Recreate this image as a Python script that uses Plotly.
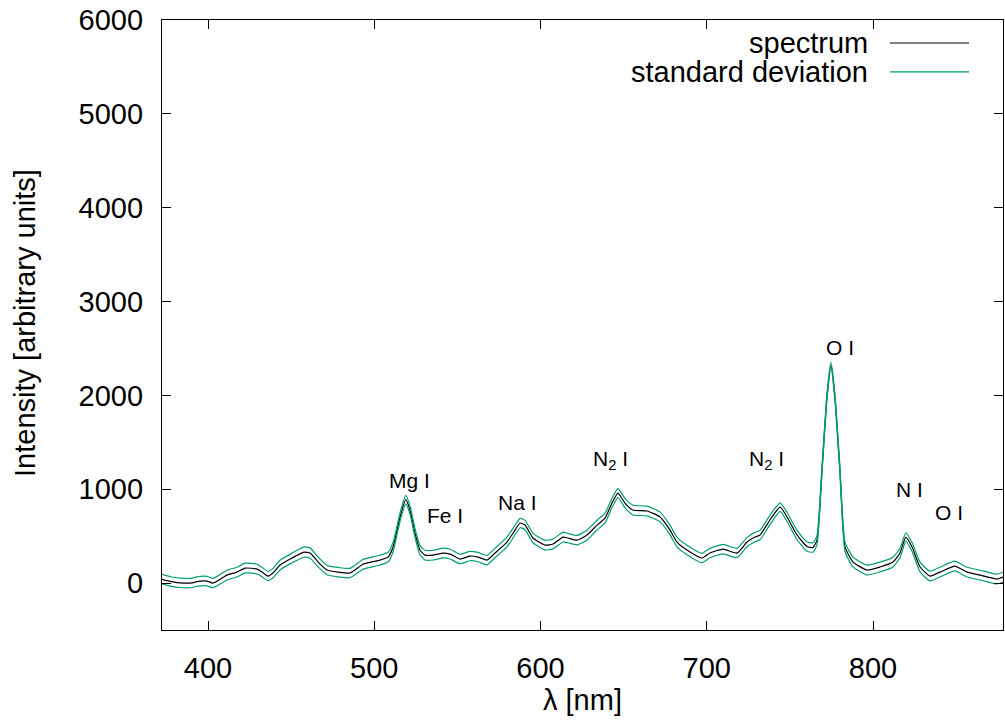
import numpy as np
import plotly.graph_objects as go

# wavelength [nm]
wavelength = [
    372.3, 378.0, 385.0, 389.2, 395.2, 399.4, 403.0, 411.4, 417.4, 422.3,
    429.5, 432.5, 436.1, 439.1, 443.3, 450.5, 457.7, 461.4, 466.2, 471.6,
    478.2, 485.4, 493.2, 497.4, 503.5, 508.3, 511.3, 515.5, 518.9, 521.5,
    524.5, 527.5, 530.5, 535.3, 541.4, 545.6, 551.6, 557.6, 562.4, 567.8,
    572.6, 579.8, 583.5, 587.7, 590.7, 595.5, 602.7, 607.5, 613.5, 616.5,
    622.0, 628.0, 634.0, 638.8, 643.0, 646.6, 650.8, 655.6, 664.1, 671.9,
    677.9, 682.1, 688.1, 697.1, 701.9, 709.8, 718.2, 724.2, 729.0, 732.0,
    738.0, 744.1, 748.3, 754.3, 760.3, 763.9, 766.3, 769.3, 772.3, 774.7,
    777.1, 780.1, 783.2, 788.0, 796.4, 804.2, 812.0, 816.2, 819.8, 823.5,
    828.3, 834.3, 840.3, 849.3, 856.5, 864.4, 869.2, 874.6, 878.2,
]

# mean spectrum intensity [arbitrary units]
spectrum = [
    40, 15, 0, 0, 21, 21, 0, 85, 117, 160,
    149, 117, 75, 107, 192, 267, 330, 320, 224, 139,
    117, 107, 200, 220, 245, 277, 384, 704, 890, 778,
    533, 352, 298, 298, 320, 309, 256, 288, 277, 245,
    320, 437, 533, 640, 618, 480, 405, 416, 490, 480,
    458, 512, 618, 693, 853, 959, 853, 778, 768, 704,
    565, 437, 352, 267, 320, 362, 320, 437, 490, 512,
    672, 810, 704, 512, 390, 380, 458, 1205, 1983, 2324,
    1983, 1205, 384, 224, 139, 171, 224, 320, 490, 384,
    171, 75, 117, 181, 117, 85, 64, 43, 64,
]

# standard deviation of the spectrum
std_dev = [
    52, 50, 50, 50, 50, 50, 50, 52, 52, 52,
    52, 50, 50, 50, 52, 52, 55, 55, 52, 50,
    50, 50, 52, 52, 52, 52, 50, 45, 45, 45,
    48, 50, 52, 52, 52, 52, 50, 50, 50, 50,
    50, 52, 52, 50, 50, 50, 52, 52, 52, 50,
    50, 52, 52, 52, 50, 48, 50, 52, 52, 52,
    52, 52, 50, 50, 50, 50, 50, 50, 50, 50,
    50, 45, 48, 50, 50, 50, 48, 40, 35, 30,
    35, 40, 50, 52, 52, 52, 52, 50, 45, 48,
    52, 52, 52, 52, 52, 52, 52, 52, 52,
]

# line labels
label_text = ["Mg I", "Fe I", "Na I", "N<sub>2</sub> I", "N<sub>2</sub> I", "O I", "N I", "O I"]
label_x = [520.9, 542.6, 585.9, 641.8, 736.2, 780.2, 821.7, 845.7]
label_y = [1098, 725, 863, 1311, 1311, 2505, 1002, 757]

x_ticks = [400, 500, 600, 700, 800]
y_ticks = [0, 1000, 2000, 3000, 4000, 5000, 6000]

spec = np.array(spectrum, dtype=float)
sd = np.array(std_dev, dtype=float)

FONT = "Liberation Sans, Arial, Helvetica, sans-serif"
GREEN = "#009e73"
line_shape = dict(shape="spline", smoothing=0.5)

fig = go.Figure()
fig.add_trace(go.Scatter(x=wavelength, y=spec, mode="lines",
                         line=dict(color="black", width=1.2, **line_shape),
                         name="spectrum", showlegend=False))
fig.add_trace(go.Scatter(x=wavelength, y=spec + sd, mode="lines",
                         line=dict(color=GREEN, width=1.2, **line_shape),
                         name="standard deviation", showlegend=False))
fig.add_trace(go.Scatter(x=wavelength, y=spec - sd, mode="lines",
                         line=dict(color=GREEN, width=1.2, **line_shape),
                         name="standard deviation", showlegend=False))

annotations = []
for t, x, y in zip(label_text, label_x, label_y):
    annotations.append(dict(x=x, y=y, xref="x", yref="y", text=t, showarrow=False,
                            xanchor="center", yanchor="middle",
                            font=dict(family=FONT, size=21, color="black")))

# axis titles
annotations.append(dict(x=0.5, y=-0.1148, xref="paper", yref="paper", text="λ [nm]",
                        showarrow=False, xanchor="center", yanchor="middle",
                        font=dict(family=FONT, size=29, color="black")))
annotations.append(dict(x=-0.1629, y=0.5033, xref="paper", yref="paper",
                        text="Intensity [arbitrary units]", textangle=-90,
                        showarrow=False, xanchor="center", yanchor="middle",
                        font=dict(family=FONT, size=29, color="black")))

# legend (gnuplot style: text right-aligned, sample line to the right)
legend_items = [("spectrum", "black", 0.9623), ("standard deviation", GREEN, 0.9148)]
shapes = []
for txt, col, yy in legend_items:
    annotations.append(dict(x=0.8419, y=yy, xref="paper", yref="paper", text=txt,
                            showarrow=False, xanchor="right", yanchor="middle",
                            font=dict(family=FONT, size=29, color="black")))
    shapes.append(dict(type="line", xref="paper", yref="paper", x0=0.8656, x1=0.9596,
                       y0=yy, y1=yy, line=dict(color=col, width=1.2)))

axis_common = dict(showline=True, linecolor="black", linewidth=1.2, mirror="ticks",
                   ticks="inside", ticklen=9, tickwidth=1, tickcolor="black",
                   showgrid=False, zeroline=False,
                   tickfont=dict(family=FONT, size=29, color="black"))

fig.update_layout(
    width=1005, height=724,
    margin=dict(l=162, r=2, t=20, b=94),
    paper_bgcolor="white", plot_bgcolor="white",
    xaxis=dict(range=[372.3, 878.2], tickvals=x_ticks, ticklabelstandoff=12, **axis_common),
    yaxis=dict(range=[-500, 6000], tickvals=y_ticks, ticklabelstandoff=12, **axis_common),
    annotations=annotations, shapes=shapes, showlegend=False,
)

fig.write_html("out.html")
